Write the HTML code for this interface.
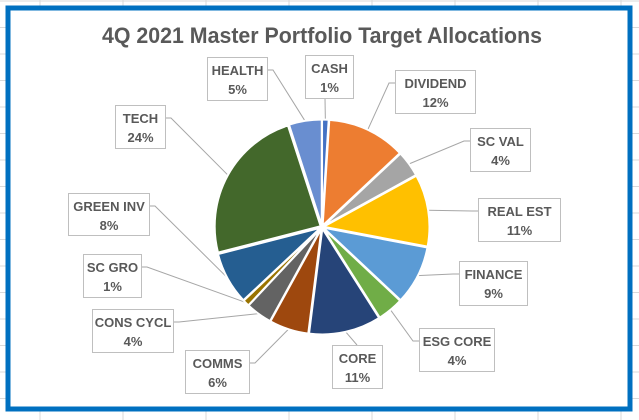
<!DOCTYPE html>
<html><head><meta charset="utf-8"><style>
body{margin:0;width:639px;height:420px;overflow:hidden;background:#fff;font-family:"Liberation Sans",sans-serif}
svg{display:block}
</style></head><body>
<svg id="c" width="639" height="420" xmlns="http://www.w3.org/2000/svg">
<g id="grid"></g>
<rect x="8" y="8" width="622" height="401" fill="#fff" stroke="#0070C0" stroke-width="5"/>
<text x="322" y="43" text-anchor="middle" font-size="22" font-weight="bold" fill="#595959" textLength="440" lengthAdjust="spacingAndGlyphs">4Q 2021 Master Portfolio Target Allocations</text>
<g id="lines"></g><g id="slices"></g><g id="lbls"></g>
</svg>
<script>
const categories=["CASH","DIVIDEND","SC VAL","REAL EST","FINANCE","ESG CORE","CORE","COMMS","CONS CYCL","SC GRO","GREEN INV","TECH","HEALTH"];
const values=[1,12,4,11,9,4,11,6,4,1,8,24,5];
const labels=["1%","12%","4%","11%","9%","4%","11%","6%","4%","1%","8%","24%","5%"];
const colors=["#4472C4","#ED7D31","#A5A5A5","#FFC000","#5B9BD5","#70AD47","#264478","#9E480E","#636363","#997300","#255E91","#43682B","#698ED0"];
const boxes=[[305,55,48,43,'b'],[395,70,80,43,'l'],[470,128,60,43,'l'],[478,198,82,43,'l'],[459,261,68,44,'l'],[419,328,75,43,'l'],[332,345,50,43,'t'],[185,350,64,43,'r'],[92,309,81,43,'r'],[83,254,58,43,'r'],[68,193,81,42,'r'],[115,105,50,43,'r'],[207,57,60,43,'r']];
const NS="http://www.w3.org/2000/svg";
const grid=document.getElementById('grid');
for(let x=40;x<639;x+=83){const l=document.createElementNS(NS,'line');l.setAttribute('x1',x);l.setAttribute('x2',x);l.setAttribute('y1',0);l.setAttribute('y2',420);l.setAttribute('stroke','#d9d9d9');


grid.appendChild(l);}
for(let y=1;y<420;y+=26.5){const l=document.createElementNS(NS,'line');l.setAttribute('x1',0);l.setAttribute('x2',639);l.setAttribute('y1',y);l.setAttribute('y2',y);l.setAttribute('stroke','#d9d9d9');


grid.appendChild(l);}
const cx=322,cy=227,R=106;
const total=values.reduce((a,b)=>a+b,0);
const ang=v=>v/total*2*Math.PI;
const pt=(a,r)=>[cx+r*Math.sin(a),cy-r*Math.cos(a)];
let acc=0;
const sg=document.getElementById('slices'),lg=document.getElementById('lbls'),lng=document.getElementById('lines');
values.forEach((v,i)=>{
 const a0=ang(acc),a1=ang(acc+v);acc+=v;
 const m=(a0+a1)/2,dx=1.5*Math.sin(m),dy=-1.5*Math.cos(m);
 const p0=pt(a0,R),p1=pt(a1,R);
 const p=document.createElementNS(NS,'path');
 p.setAttribute('d',`M${cx} ${cy}L${p0[0]} ${p0[1]}A${R} ${R} 0 ${a1-a0>Math.PI?1:0} 1 ${p1[0]} ${p1[1]}Z`);
 p.setAttribute('transform',`translate(${dx},${dy})`);
 p.setAttribute('fill',colors[i]);p.setAttribute('stroke','#fff');p.setAttribute('stroke-width','2');
 
 
 sg.appendChild(p);
 const b=boxes[i];
 let ax,ay;
 if(b[4]=='l'){ax=b[0];ay=b[1]+13;}else if(b[4]=='r'){ax=b[0]+b[2];ay=b[1]+13;}else if(b[4]=='t'){ax=b[0]+b[2]/2;ay=b[1];}else{ax=b[0]+b[2]/2-4;ay=b[1]+b[3];}
 const e=pt(m,R+1);
 const ln=document.createElementNS(NS,'polyline');
 const hx=b[4]=='l'?ax-6:b[4]=='r'?ax+6:ax;
 ln.setAttribute('points',`${ax},${ay} ${hx},${ay} ${e[0]},${e[1]}`);
 ln.setAttribute('fill','none');ln.setAttribute('stroke','#a6a6a6');ln.setAttribute('stroke-width','1');
 
 
 lng.appendChild(ln);
 const r=document.createElementNS(NS,'rect');
 r.setAttribute('x',b[0]+0.5);r.setAttribute('y',b[1]+0.5);r.setAttribute('width',b[2]);r.setAttribute('height',b[3]);
 r.setAttribute('fill','#fff');r.setAttribute('stroke','#bfbfbf');
 
 
 lg.appendChild(r);
 [[categories[i],b[1]+18],[labels[i],b[1]+37]].forEach(([t,y])=>{
  const tx=document.createElementNS(NS,'text');
  tx.setAttribute('x',b[0]+b[2]/2+0.5);tx.setAttribute('y',y);tx.setAttribute('text-anchor','middle');
  tx.setAttribute('font-size','13');tx.setAttribute('font-weight','bold');tx.setAttribute('fill','#595959');
  tx.textContent=t;
  
  
  lg.appendChild(tx);
 });
});
</script>
</body></html>
